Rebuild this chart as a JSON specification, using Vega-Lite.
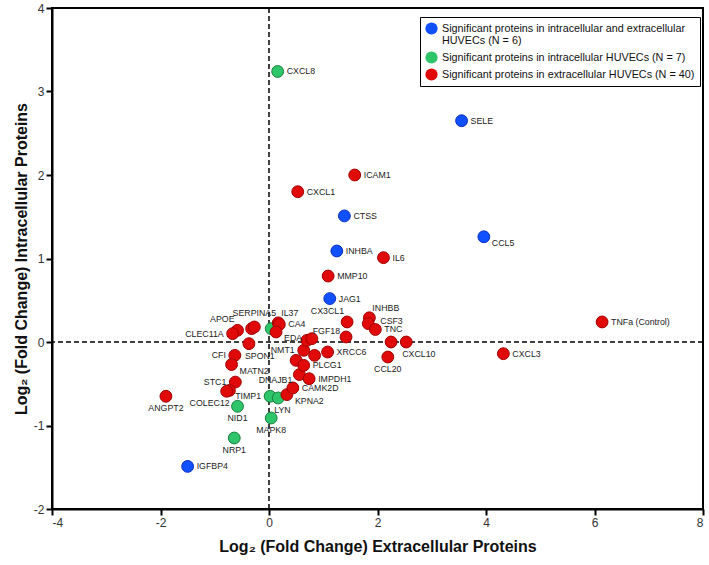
{
  "$schema": "https://vega.github.io/schema/vega-lite/v6.json",
  "autosize": {"type": "none"},
  "width": 651,
  "height": 501,
  "padding": {"left": 52, "top": 8, "right": 6, "bottom": 56},
  "background": "white",
  "config": {
    "view": {"stroke": "black", "strokeWidth": 2},
    "font": "Liberation Sans",
    "text": {"fill": "#222", "strokeWidth": 0, "strokeOpacity": 0, "fontSize": 8.8, "font": "Liberation Sans", "baseline": "middle"},
    "axis": {
      "grid": false,
      "domainColor": "black",
      "domainWidth": 2,
      "tickColor": "black",
      "tickWidth": 2,
      "tickSize": 6,
      "labelFont": "Liberation Sans",
      "labelFontSize": 12,
      "labelColor": "#333",
      "labelPadding": 2,
      "titleFont": "Liberation Sans",
      "titleFontSize": 16,
      "titleFontWeight": "bold",
      "titleColor": "#111"
    }
  },
  "datasets": {
    "pts": [
      {"gene": "", "group": "intra", "lfc_ex": 0.04, "lfc_in": 0.16, "pos": "none"},
      {"gene": "CXCL8", "group": "intra", "lfc_ex": 0.16, "lfc_in": 3.24, "pos": "right"},
      {"gene": "TIMP1", "group": "intra", "lfc_ex": 0.02, "lfc_in": -0.65, "pos": "left"},
      {"gene": "LYN", "group": "intra", "lfc_ex": 0.17, "lfc_in": -0.67, "pos": "belowright"},
      {"gene": "NID1", "group": "intra", "lfc_ex": -0.58, "lfc_in": -0.77, "pos": "below"},
      {"gene": "NRP1", "group": "intra", "lfc_ex": -0.64, "lfc_in": -1.15, "pos": "below"},
      {"gene": "MAPK8", "group": "intra", "lfc_ex": 0.04, "lfc_in": -0.91, "pos": "below"},
      {"gene": "SELE", "group": "both", "lfc_ex": 3.55, "lfc_in": 2.65, "pos": "right"},
      {"gene": "CCL5", "group": "both", "lfc_ex": 3.96, "lfc_in": 1.26, "pos": "rightlow"},
      {"gene": "CTSS", "group": "both", "lfc_ex": 1.39, "lfc_in": 1.51, "pos": "right"},
      {"gene": "INHBA", "group": "both", "lfc_ex": 1.25, "lfc_in": 1.09, "pos": "right"},
      {"gene": "JAG1", "group": "both", "lfc_ex": 1.12, "lfc_in": 0.52, "pos": "right"},
      {"gene": "IGFBP4", "group": "both", "lfc_ex": -1.5, "lfc_in": -1.49, "pos": "right"},
      {"gene": "CXCL1", "group": "extra", "lfc_ex": 0.53, "lfc_in": 1.8, "pos": "right"},
      {"gene": "ICAM1", "group": "extra", "lfc_ex": 1.58, "lfc_in": 2.0, "pos": "right"},
      {"gene": "IL6", "group": "extra", "lfc_ex": 2.11, "lfc_in": 1.01, "pos": "right"},
      {"gene": "MMP10", "group": "extra", "lfc_ex": 1.09, "lfc_in": 0.79, "pos": "right"},
      {"gene": "INHBB", "group": "extra", "lfc_ex": 1.85, "lfc_in": 0.29, "pos": "aboveright"},
      {"gene": "CSF3", "group": "extra", "lfc_ex": 1.83, "lfc_in": 0.22, "pos": "righthigh"},
      {"gene": "TNC", "group": "extra", "lfc_ex": 1.96, "lfc_in": 0.15, "pos": "right"},
      {"gene": "CX3CL1", "group": "extra", "lfc_ex": 1.44, "lfc_in": 0.24, "pos": "aboveleft"},
      {"gene": "FGF18", "group": "extra", "lfc_ex": 1.42, "lfc_in": 0.06, "pos": "lefthigh"},
      {"gene": "", "group": "extra", "lfc_ex": 2.25, "lfc_in": 0.0, "pos": "none"},
      {"gene": "CXCL10", "group": "extra", "lfc_ex": 2.53, "lfc_in": 0.0, "pos": "belowright"},
      {"gene": "CCL20", "group": "extra", "lfc_ex": 2.19, "lfc_in": -0.18, "pos": "below"},
      {"gene": "CXCL3", "group": "extra", "lfc_ex": 4.32, "lfc_in": -0.14, "pos": "right"},
      {"gene": "TNFa (Control)", "group": "extra", "lfc_ex": 6.14, "lfc_in": 0.24, "pos": "right"},
      {"gene": "IL37", "group": "extra", "lfc_ex": 0.17, "lfc_in": 0.23, "pos": "aboveright"},
      {"gene": "CA4", "group": "extra", "lfc_ex": 0.19, "lfc_in": 0.21, "pos": "right"},
      {"gene": "EDA", "group": "extra", "lfc_ex": 0.13, "lfc_in": 0.12, "pos": "rightlow"},
      {"gene": "", "group": "extra", "lfc_ex": -0.32, "lfc_in": 0.16, "pos": "none"},
      {"gene": "SERPINA5", "group": "extra", "lfc_ex": -0.27, "lfc_in": 0.18, "pos": "above"},
      {"gene": "APOE", "group": "extra", "lfc_ex": -0.58, "lfc_in": 0.14, "pos": "aboveleft"},
      {"gene": "CLEC11A", "group": "extra", "lfc_ex": -0.67, "lfc_in": 0.1, "pos": "left"},
      {"gene": "SPON1", "group": "extra", "lfc_ex": -0.37, "lfc_in": -0.02, "pos": "belowright"},
      {"gene": "CFI", "group": "extra", "lfc_ex": -0.63, "lfc_in": -0.16, "pos": "left"},
      {"gene": "MATN2", "group": "extra", "lfc_ex": -0.69, "lfc_in": -0.27, "pos": "rightlow"},
      {"gene": "STC1", "group": "extra", "lfc_ex": -0.62, "lfc_in": -0.48, "pos": "left"},
      {"gene": "", "group": "extra", "lfc_ex": -0.73, "lfc_in": -0.58, "pos": "none"},
      {"gene": "COLEC12", "group": "extra", "lfc_ex": -0.78, "lfc_in": -0.59, "pos": "belowleft"},
      {"gene": "ANGPT2", "group": "extra", "lfc_ex": -1.9, "lfc_in": -0.65, "pos": "below"},
      {"gene": "KPNA2", "group": "extra", "lfc_ex": 0.33, "lfc_in": -0.63, "pos": "rightlow"},
      {"gene": "CAMK2D", "group": "extra", "lfc_ex": 0.44, "lfc_in": -0.55, "pos": "right"},
      {"gene": "DNAJB1", "group": "extra", "lfc_ex": 0.56, "lfc_in": -0.39, "pos": "leftlow"},
      {"gene": "IMPDH1", "group": "extra", "lfc_ex": 0.74, "lfc_in": -0.44, "pos": "right"},
      {"gene": "", "group": "extra", "lfc_ex": 0.5, "lfc_in": -0.22, "pos": "none"},
      {"gene": "PLCG1", "group": "extra", "lfc_ex": 0.64, "lfc_in": -0.28, "pos": "right"},
      {"gene": "NMT1", "group": "extra", "lfc_ex": 0.64, "lfc_in": -0.1, "pos": "left"},
      {"gene": "", "group": "extra", "lfc_ex": 0.84, "lfc_in": -0.16, "pos": "none"},
      {"gene": "", "group": "extra", "lfc_ex": 0.7, "lfc_in": 0.02, "pos": "none"},
      {"gene": "", "group": "extra", "lfc_ex": 0.79, "lfc_in": 0.04, "pos": "none"},
      {"gene": "XRCC6", "group": "extra", "lfc_ex": 1.08, "lfc_in": -0.12, "pos": "right"}
    ],
    "zero": [{"v": 0}]
  },
  "layer": [
    {
      "data": {"name": "zero"},
      "mark": {"type": "rule", "strokeDash": [5, 3], "color": "black", "strokeWidth": 1.5},
      "encoding": {
        "x": {"field": "v", "type": "quantitative", "scale": {"domain": [-4, 8], "nice": false, "zero": false},
          "axis": {"values": [-4, -2, 0, 2, 4, 6, 8], "labelExpr": "'' + datum.value", "title": "Log₂ (Fold Change) Extracellular Proteins", "titlePadding": 10}}
      }
    },
    {
      "data": {"name": "zero"},
      "mark": {"type": "rule", "strokeDash": [5, 3], "color": "black", "strokeWidth": 1.5},
      "encoding": {
        "y": {"field": "v", "type": "quantitative", "scale": {"domain": [-2, 4], "nice": false, "zero": false},
          "axis": {"values": [-2, -1, 0, 1, 2, 3, 4], "labelExpr": "'' + datum.value", "title": "Log₂ (Fold Change) Intracellular Proteins", "titlePadding": 4}}
      }
    },
    {
      "data": {"name": "pts"},
      "layer": [
        {
          "mark": {"type": "point", "filled": true, "shape": "circle", "size": 140, "opacity": 1, "strokeWidth": 1},
          "encoding": {
            "color": {
              "field": "group", "type": "nominal",
              "scale": {"domain": ["both", "intra", "extra"], "range": ["#1150ff", "#2ec46a", "#e00a0a"]},
              "legend": {
                "title": null,
                "orient": "none",
                "legendX": 368,
                "legendY": 9,
                "direction": "vertical",
                "strokeColor": "black",
                "fillColor": "white",
                "padding": 5,
                "symbolType": "circle",
                "symbolSize": 150,
                "symbolStrokeWidth": 0,
                "labelFont": "Liberation Sans",
                "labelFontSize": 10.8,
                "labelColor": "#111",
                "labelLimit": 400,
                "labelOffset": 4,
                "rowPadding": 4,
                "labelExpr": "datum.label === 'both' ? ['Significant proteins in intracellular and extracellular', 'HUVECs (N = 6)'] : datum.label === 'intra' ? 'Significant proteins in intracellular HUVECs (N = 7)' : 'Significant proteins in extracellular HUVECs (N = 40)'"
              }
            },
            "stroke": {
              "field": "group", "type": "nominal",
              "scale": {"domain": ["both", "intra", "extra"], "range": ["#0a2fc0", "#1a8040", "#a00000"]},
              "legend": null
            }
          }
        },
        {
          "transform": [{"filter": "datum.pos === 'right'"}],
          "mark": {"type": "text", "align": "left", "dx": 9, "fill": "#222", "strokeWidth": 0},
          "encoding": {"text": {"field": "gene"}}
        },
        {
          "transform": [{"filter": "datum.pos === 'righthigh'"}],
          "mark": {"type": "text", "align": "left", "dx": 12, "dy": -3, "fill": "#222", "strokeWidth": 0},
          "encoding": {"text": {"field": "gene"}}
        },
        {
          "transform": [{"filter": "datum.pos === 'rightlow'"}],
          "mark": {"type": "text", "align": "left", "dx": 8, "dy": 6, "fill": "#222", "strokeWidth": 0},
          "encoding": {"text": {"field": "gene"}}
        },
        {
          "transform": [{"filter": "datum.pos === 'left'"}],
          "mark": {"type": "text", "align": "right", "dx": -9, "fill": "#222", "strokeWidth": 0},
          "encoding": {"text": {"field": "gene"}}
        },
        {
          "transform": [{"filter": "datum.pos === 'lefthigh'"}],
          "mark": {"type": "text", "align": "right", "dx": -6, "dy": -6, "fill": "#222", "strokeWidth": 0},
          "encoding": {"text": {"field": "gene"}}
        },
        {
          "transform": [{"filter": "datum.pos === 'leftlow'"}],
          "mark": {"type": "text", "align": "right", "dx": -7, "dy": 5, "fill": "#222", "strokeWidth": 0},
          "encoding": {"text": {"field": "gene"}}
        },
        {
          "transform": [{"filter": "datum.pos === 'above'"}],
          "mark": {"type": "text", "align": "center", "dy": -14, "fill": "#222", "strokeWidth": 0},
          "encoding": {"text": {"field": "gene"}}
        },
        {
          "transform": [{"filter": "datum.pos === 'below'"}],
          "mark": {"type": "text", "align": "center", "dy": 12, "fill": "#222", "strokeWidth": 0},
          "encoding": {"text": {"field": "gene"}}
        },
        {
          "transform": [{"filter": "datum.pos === 'aboveright'"}],
          "mark": {"type": "text", "align": "left", "dx": 3, "dy": -10, "fill": "#222", "strokeWidth": 0},
          "encoding": {"text": {"field": "gene"}}
        },
        {
          "transform": [{"filter": "datum.pos === 'aboveleft'"}],
          "mark": {"type": "text", "align": "right", "dx": -3, "dy": -11, "fill": "#222", "strokeWidth": 0},
          "encoding": {"text": {"field": "gene"}}
        },
        {
          "transform": [{"filter": "datum.pos === 'belowright'"}],
          "mark": {"type": "text", "align": "left", "dx": -4, "dy": 12, "fill": "#222", "strokeWidth": 0},
          "encoding": {"text": {"field": "gene"}}
        },
        {
          "transform": [{"filter": "datum.pos === 'belowleft'"}],
          "mark": {"type": "text", "align": "right", "dx": 3, "dy": 12, "fill": "#222", "strokeWidth": 0},
          "encoding": {"text": {"field": "gene"}}
        }
      ],
      "encoding": {
        "x": {"field": "lfc_ex", "type": "quantitative"},
        "y": {"field": "lfc_in", "type": "quantitative"}
      }
    }
  ]
}
